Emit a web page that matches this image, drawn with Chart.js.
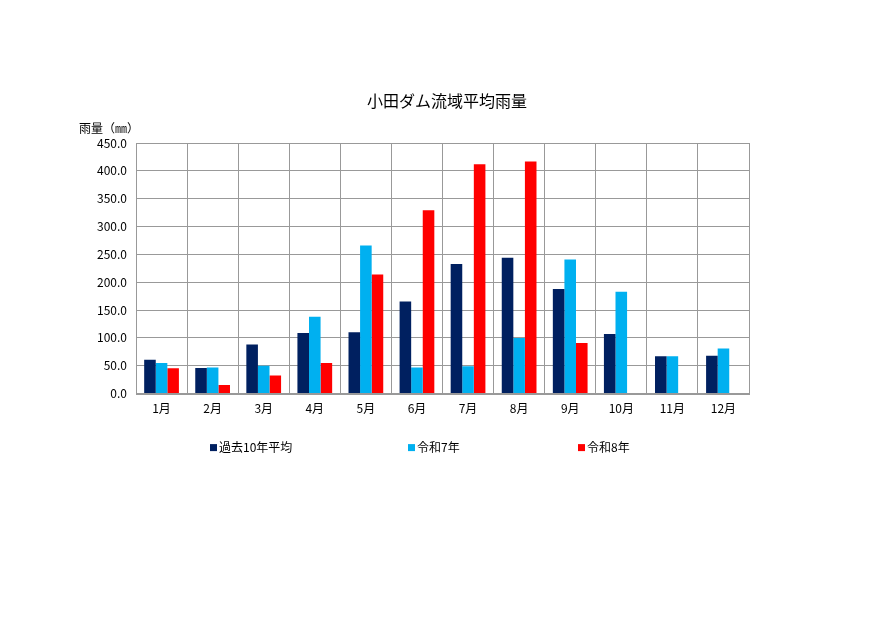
<!DOCTYPE html>
<html><head><meta charset="utf-8">
<script src="https://cdn.jsdelivr.net/npm/chart.js@4/dist/chart.umd.min.js"></script>
<style>html,body{margin:0;padding:0;background:#fff}#wrap{width:890px;height:630px;position:relative}</style>
</head><body><div id="wrap"><canvas id="c" width="890" height="630"></canvas></div>
<script>
const months = ["1月","2月","3月","4月","5月","6月","7月","8月","9月","10月","11月","12月"];
const seriesNames = ["過去10年平均","令和7年","令和8年"];
const avg10 = [60.6,46,88,109,110,165.6,232.8,244,188,107,67,68];
const r7 = [55,47,49.8,138,266,47,49.2,100,241,183,67,81];
const r8 = [45.5,15.6,32.4,55,214,329.4,412,417,91,null,null,null];
const yTicks = [0,50,100,150,200,250,300,350,400,450];
const titleText = "小田ダム流域平均雨量";
const yTitle = "雨量（㎜）";
const FONT = "'Noto Sans CJK JP', 'Noto Sans', sans-serif";

const textPlugin = {
  id: 'texts',
  afterDraw(chart) {
    const ctx = chart.ctx, ca = chart.chartArea;
    ctx.save();
    ctx.fillStyle = "#000";
    ctx.font = "16px " + FONT;
    ctx.textAlign = "center";
    ctx.textBaseline = "middle";
    ctx.fillText(titleText, 447, ca.top - 42);
    ctx.font = "12px " + FONT;
    ctx.textAlign = "right";
    ctx.fillText(yTitle, ca.left + 3, ca.top - 15);
    // legend
    const lx = [210, 408, 578];
    const ly = ca.bottom + 54;
    chart.data.datasets.forEach((ds, i) => {
      ctx.fillStyle = ds.backgroundColor;
      ctx.fillRect(lx[i], ly - 3.5, 7, 7);
      ctx.fillStyle = "#000";
      ctx.textAlign = "left";
      ctx.fillText(ds.label, lx[i] + 9, ly);
    });
    ctx.restore();
  }
};
const bgPlugin = {
  id: 'bg',
  beforeDraw(chart){const c=chart.ctx;c.save();c.fillStyle="#fff";c.fillRect(0,0,chart.width,chart.height);c.restore();}
};

new Chart(document.getElementById('c'), {
  type: 'bar',
  data: {
    labels: months,
    datasets: [
      {label: seriesNames[0], data: avg10, backgroundColor: '#002060'},
      {label: seriesNames[1], data: r7, backgroundColor: '#00B0F0'},
      {label: seriesNames[2], data: r8, backgroundColor: '#FF0000'}
    ]
  },
  options: {
    responsive: false,
    animation: false,
    devicePixelRatio: 1,
    datasets: {bar: {barPercentage: 1.0, categoryPercentage: 0.68}},
    layout: {padding: {left: 70, right: 141, top: 143, bottom: 206}},
    plugins: {
      title: {display: false},
      legend: {display: false},
      tooltip: {enabled: false}
    },
    scales: {
      x: {
        grid: {color: '#999', lineWidth: 1, drawTicks: false},
        border: {color: '#999'},
        ticks: {color: '#000', font: {family: FONT, size: 12}, padding: 8}
      },
      y: {
        min: 0, max: 450,
        afterBuildTicks(s){ s.ticks = yTicks.map(v => ({value: v})); },
        afterFit(s){ s.width = 66; },
        grid: {color: '#999', lineWidth: 1, drawTicks: false},
        border: {color: '#999'},
        ticks: {color: '#000', font: {family: FONT, size: 12}, padding: 9, callback: v => Number(v).toFixed(1)}
      }
    }
  },
  plugins: [bgPlugin, textPlugin, {
    id: 'frame',
    afterDatasetsDraw(chart){const c=chart.ctx,a=chart.chartArea;c.save();c.strokeStyle='#999';c.lineWidth=1;c.strokeRect(Math.round(a.left)+0.5,Math.round(a.top)+0.5,Math.round(a.right-a.left),Math.round(a.bottom-a.top));c.restore();}
  }]
});
</script></body></html>
